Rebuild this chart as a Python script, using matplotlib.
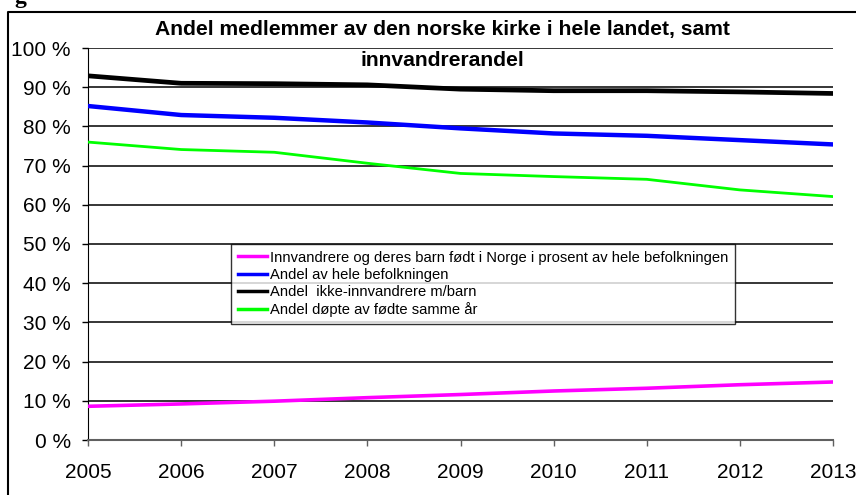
import matplotlib
matplotlib.use('Agg')
import matplotlib.pyplot as plt
from matplotlib.lines import Line2D
from matplotlib.ticker import FuncFormatter

plt.rcParams['font.family'] = ['Liberation Sans', 'DejaVu Sans']

# data (percent)
years = [2005, 2006, 2007, 2008, 2009, 2010, 2011, 2012, 2013]
innvandrere = [8.6, 9.2, 9.9, 10.8, 11.6, 12.5, 13.2, 14.1, 14.8]
hele_befolkningen = [85.2, 82.9, 82.2, 81.0, 79.5, 78.2, 77.6, 76.5, 75.4]
ikke_innvandrere = [92.9, 91.0, 90.9, 90.6, 89.5, 89.1, 89.1, 88.8, 88.4]
dopte = [76.0, 74.1, 73.4, 70.6, 68.0, 67.2, 66.5, 63.8, 62.1]

labels = [
    'Innvandrere og deres barn født i Norge i prosent av hele befolkningen',
    'Andel av hele befolkningen',
    'Andel  ikke-innvandrere m/barn',
    'Andel døpte av fødte samme år',
]
title = 'Andel medlemmer av den norske kirke i hele landet, samt\ninnvandrerandel'

W, H = 856, 495
fig = plt.figure(figsize=(W / 100, H / 100), dpi=100)
ax = fig.add_axes([88 / W, 1 - 440 / H, (833 - 88) / W, (440 - 48) / H])

l1, = ax.plot(years, innvandrere, color='#FF00FF', lw=2.6, zorder=3)
l2, = ax.plot(years, hele_befolkningen, color='#0000FF', lw=3.2, zorder=3)
l3, = ax.plot(years, ikke_innvandrere, color='black', lw=3.4, zorder=3)
l4, = ax.plot(years, dopte, color='#00FF00', lw=2.0, zorder=3)

ax.set_xlim(2005, 2013)
ax.set_ylim(0, 100)
ax.set_xticks(years)
ax.set_yticks(range(0, 101, 10))
ax.yaxis.set_major_formatter(FuncFormatter(lambda v, p: f'{int(v)} %'))
ax.tick_params(axis='both', labelsize=15, length=4.5, width=1, direction='out')
ax.tick_params(axis='y', pad=8)
ax.tick_params(axis='x', pad=12, colors='#606060', labelcolor='black')
ax.grid(axis='y', color='black', lw=1.1)
ax.set_axisbelow(True)
for s in ['top', 'right']:
    ax.spines[s].set_visible(False)
ax.spines['left'].set_color('black')
ax.spines['bottom'].set_color('#606060')
ax.spines['bottom'].set_linewidth(1.5)

leg = fig.legend([l1, l2, l3, l4], labels, loc='upper left',
                 bbox_to_anchor=(231 / W, 1 - 244 / H), fontsize=10.6,
                 frameon=True, fancybox=False, edgecolor='black',
                 handlelength=2.0, handletextpad=0.2, borderpad=0.45,
                 labelspacing=0.22, borderaxespad=0)
leg.get_frame().set_linewidth(1.0)
for h in leg.get_lines():
    h.set_linewidth(2.5)

fig.text(442 / W, 1 - 45 / H, title, ha='center', va='center',
         fontsize=15.2, fontweight='bold', linespacing=1.75)

# outer frame (top and left edges only show)
fig.add_artist(Line2D([8 / W, 8 / W, 1], [0, 1 - 12 / H, 1 - 12 / H],
                      transform=fig.transFigure, color='black', lw=1.5))
# clipped caption letter at top-left
fig.text(14 / W, 1 - 3 / H, 'g', fontsize=17, fontweight='bold',
         family=['Liberation Serif'], va='baseline', ha='left')

fig.savefig('out.png', dpi=100)
